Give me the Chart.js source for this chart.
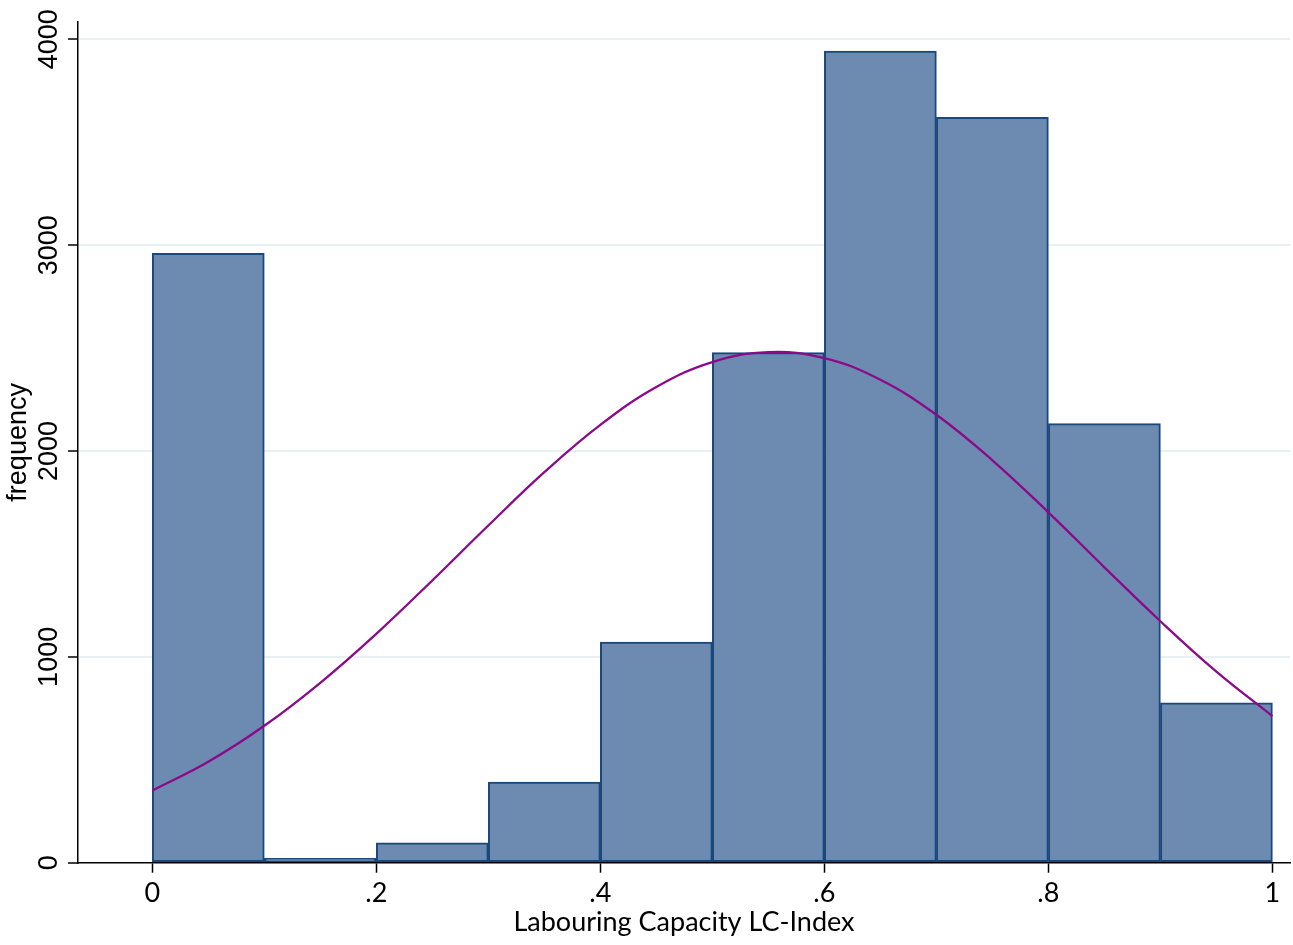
<!DOCTYPE html>
<html>
<head>
<meta charset="utf-8">
<title>Labouring Capacity LC-Index</title>
<script src="https://cdn.jsdelivr.net/npm/chart.js@4/dist/chart.umd.min.js"></script>
<style>
  html, body { margin: 0; padding: 0; background: #ffffff; }
  #wrap { width: 1293px; height: 945px; }
</style>
</head>
<body>
<div id="wrap"><canvas id="hist" width="1293" height="945"></canvas></div>
<script>
// Histogram bins (lower edge of each 0.1-wide bin) and their frequencies
const binLower = [0.0, 0.1, 0.2, 0.3, 0.4, 0.5, 0.6, 0.7, 0.8, 0.9];
const binWidth = 0.1;
const frequency = [2960, 21, 97, 392, 1072, 2478, 3943, 3621, 2133, 777];

// Overlaid normal density curve, sampled along the index
const curveX = [0.00, 0.05, 0.10, 0.15, 0.20, 0.25, 0.30, 0.35, 0.40, 0.45, 0.50,
                0.55, 0.60, 0.65, 0.70, 0.75, 0.80, 0.85, 0.90, 0.95, 1.00];
const curveY = [350, 490, 665, 874, 1112, 1371, 1638, 1897, 2127, 2311, 2432,
                2480, 2451, 2346, 2176, 1955, 1702, 1435, 1173, 928, 712];

// Axis ticks
const xTicks = [0, 0.2, 0.4, 0.6, 0.8, 1];
const xTickLabels = ['0', '.2', '.4', '.6', '.8', '1'];
const yTicks = [0, 1000, 2000, 3000, 4000];
const yTickLabels = ['0', '1000', '2000', '3000', '4000'];

const xTitle = 'Labouring Capacity LC-Index';
const yTitle = 'frequency';

const barPoints = binLower.map((lo, i) => ({ x: lo + binWidth / 2, y: frequency[i] }));
const curvePoints = curveX.map((x, i) => ({ x: x, y: curveY[i] }));

// Vertical (rotated) y-axis labels and title
const rotatedYText = {
  id: 'rotatedYText',
  afterDraw(chart) {
    const ctx = chart.ctx;
    const y = chart.scales.y;
    ctx.save();
    ctx.fillStyle = '#000000';
    ctx.font = '27px "Liberation Sans", Arial, sans-serif';
    ctx.textAlign = 'center';
    ctx.textBaseline = 'alphabetic';
    yTicks.forEach((v, i) => {
      const py = y.getPixelForValue(v);
      ctx.save();
      ctx.translate(57, py);
      ctx.rotate(-Math.PI / 2);
      ctx.fillText(yTickLabels[i], 0, 0);
      ctx.restore();
    });
    const midY = (chart.chartArea.top + chart.chartArea.bottom) / 2;
    ctx.translate(26, midY);
    ctx.rotate(-Math.PI / 2);
    ctx.fillText(yTitle, 0, 0);
    ctx.restore();
  }
};

new Chart(document.getElementById('hist'), {
  type: 'line',
  data: {
    datasets: [
      {
        type: 'line',
        data: curvePoints,
        borderColor: '#8a0a8a',
        borderWidth: 2.3,
        pointRadius: 0,
        fill: false,
        tension: 0.4,
        order: 0
      },
      {
        type: 'bar',
        data: barPoints,
        backgroundColor: '#6d8ab0',
        borderColor: '#1a477c',
        borderWidth: 2,
        borderSkipped: false,
        barPercentage: 1,
        categoryPercentage: 1,
        order: 1
      }
    ]
  },
  options: {
    responsive: false,
    animation: false,
    devicePixelRatio: 1,
    layout: { padding: { top: 22, right: 3, left: 0, bottom: 0 } },
    plugins: {
      legend: { display: false },
      tooltip: { enabled: false }
    },
    scales: {
      x: {
        type: 'linear',
        min: -0.0663,
        max: 1.0157,
        offset: false,
        afterBuildTicks(scale) { scale.ticks = xTicks.map(v => ({ value: v })); },
        afterFit(scale) { scale.height = 82.3; },
        ticks: {
          autoSkip: false,
          maxRotation: 0,
          minRotation: 0,
          padding: 4,
          color: '#000000',
          font: { family: 'Lato', size: 27 },
          callback(value) {
            const i = xTicks.findIndex(t => Math.abs(t - value) < 1e-9);
            return i >= 0 ? xTickLabels[i] : '';
          }
        },
        grid: {
          offset: false,
          drawOnChartArea: false,
          drawTicks: true,
          tickLength: 10,
          tickColor: '#000000',
          tickWidth: 1.5
        },
        border: { display: true, color: '#000000', width: 1.5 },
        title: {
          display: true,
          text: xTitle,
          color: '#000000',
          font: { family: 'Lato', size: 27, lineHeight: 1 },
          padding: { top: 0, bottom: 9 }
        }
      },
      y: {
        type: 'linear',
        min: 0,
        max: 4084,
        afterBuildTicks(scale) { scale.ticks = yTicks.map(v => ({ value: v })); },
        afterFit(scale) { scale.width = 78; },
        ticks: { display: false },
        grid: {
          drawTicks: true,
          tickLength: 10,
          tickColor: '#000000',
          tickWidth: 1.5,
          lineWidth: 2,
          color(ctx) { return ctx.tick && ctx.tick.value === 0 ? 'rgba(0,0,0,0)' : '#e8f0f1'; }
        },
        border: { display: true, color: '#000000', width: 1.5 }
      }
    }
  },
  plugins: [rotatedYText]
});
</script>
</body>
</html>
